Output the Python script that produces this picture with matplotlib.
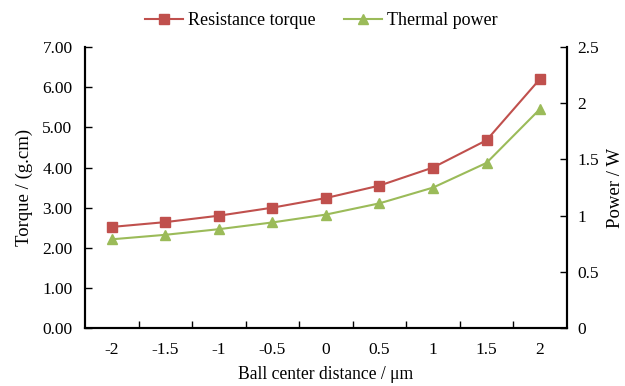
import matplotlib
matplotlib.use("Agg")
from matplotlib import pyplot as plt
import numpy as np

plt.rcParams['font.family'] = ['Liberation Serif', 'DejaVu Serif']

distance = ["-2", "-1.5", "-1", "-0.5", "0", "0.5", "1", "1.5", "2"]
torque = [2.52, 2.64, 2.80, 3.00, 3.24, 3.55, 4.00, 4.68, 6.21]
power = [0.79, 0.83, 0.88, 0.94, 1.01, 1.11, 1.25, 1.47, 1.95]

red = "#C0504D"
green = "#9BBB59"

fig = plt.figure(figsize=(6.25, 3.86), dpi=100)
ax = fig.add_axes([0.136, 0.150, 0.771, 0.728])
ax2 = ax.twinx()

x = np.arange(len(distance))
l1, = ax.plot(x, torque, color=red, marker="s", markersize=7, linewidth=1.5, label="Resistance torque")
l2, = ax2.plot(x, power, color=green, marker="^", markersize=7, linewidth=1.5, label="Thermal power")

ax.set_xlim(-0.5, len(distance) - 0.5)
ax.set_ylim(0, 7)
ax2.set_ylim(0, 2.5)
ax.set_yticks(np.arange(0, 7.01, 1))
ax.set_yticklabels(["%.2f" % v for v in np.arange(0, 7.01, 1)])
ax2.set_yticks([0, 0.5, 1, 1.5, 2, 2.5])
ax2.set_yticklabels(["0", "0.5", "1", "1.5", "2", "2.5"])

ax.set_xticks(x)
ax.set_xticklabels(distance)
ax.set_xticks(np.arange(0.5, len(distance) - 1, 1), minor=True)
ax.tick_params(axis="x", which="major", length=0, pad=10, labelsize=12.5)
ax.tick_params(axis="x", which="minor", direction="in", length=5, width=1)
ax.tick_params(axis="y", direction="in", length=5, width=1, labelsize=12.5, pad=9)
ax2.tick_params(axis="y", direction="in", length=5, width=1, labelsize=12.5, pad=7.5)

for a in (ax, ax2):
    a.spines["top"].set_visible(False)
    for s in ("left", "right", "bottom"):
        a.spines[s].set_linewidth(1.5)

ax.set_xlabel("Ball center distance / μm", fontsize=12.7, labelpad=6)
ax.set_ylabel("Torque / (g.cm)", fontsize=13.5, labelpad=7)
ax2.set_ylabel("Power / W", fontsize=13.5, labelpad=6)

fig.legend(handles=[l1, l2], loc="upper center", bbox_to_anchor=(0.514, 1.01), ncol=2,
           frameon=False, fontsize=13, handlelength=2.1, handletextpad=0.25, columnspacing=1.6)

fig.savefig("out.png", dpi=100)
